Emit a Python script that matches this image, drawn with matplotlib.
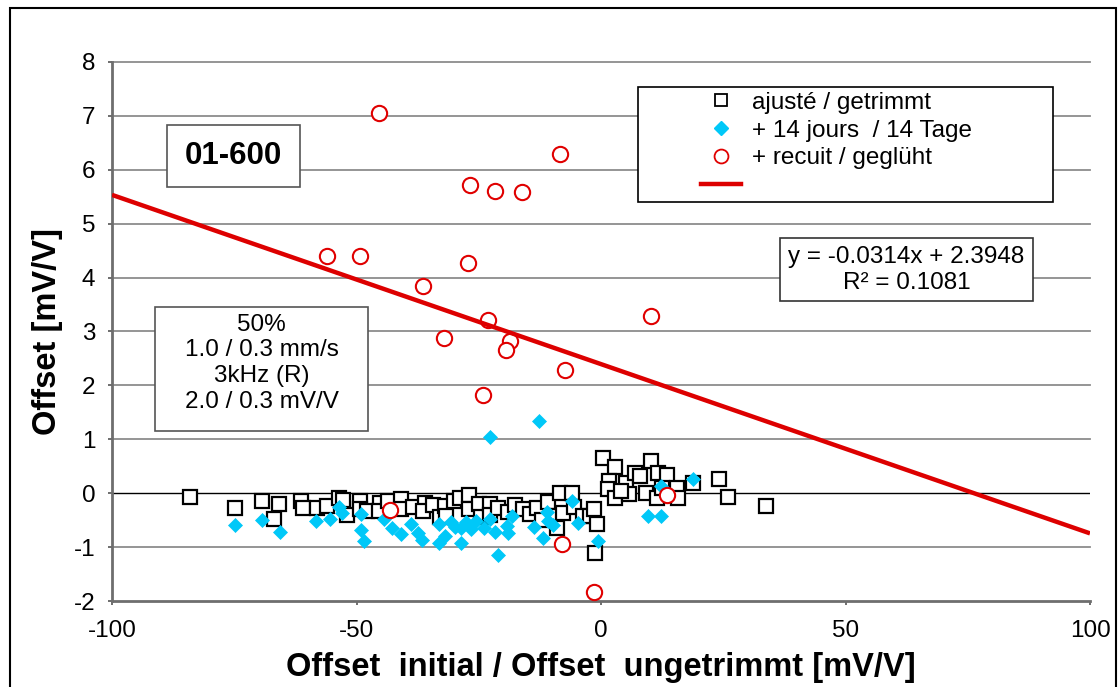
import numpy as np
import matplotlib
matplotlib.use('Agg')
import matplotlib.pyplot as plt
from matplotlib.patches import Rectangle
from matplotlib.lines import Line2D

plt.rcParams['font.family'] = ['Liberation Sans', 'DejaVu Sans']
plt.rcParams['axes.unicode_minus'] = False

# ── Data ──────────────────────────────────────────────────────────────────────
# ajusté / getrimmt (open squares)
sq_x = [-84.0, -74.8, -69.4, -65.8, -66.9, -61.3, -61.0, -58.1, -56.0, -53.5,
        -52.8, -52.0, -49.3, -49.3, -47.9, -45.2, -45.5, -43.5, -41.0, -40.8,
        -38.5, -36.0, -36.5, -34.3, -33.0, -31.9, -31.6, -30.0, -28.8, -26.9,
        -26.9, -25.0, -24.5, -22.7, -22.7, -21.0, -19.0, -17.5, -16.0, -14.5,
        -13.0, -12.0, -10.8, -8.4, -6.0, -9.4, -9.1, -7.7, -5.5, -3.6,
        -2.2, -0.9, -1.2, -1.5,
        0.5, 2.9, 1.7, 1.5, 2.9, 5.1, 5.8, 7.0, 8.0, 9.3,
        10.2, 11.7, 11.4, 13.4, 15.5, 15.8, 18.8, 24.2, 26.0, 33.7,
        4.0, 12.5]
sq_y = [-0.07, -0.27, -0.14, -0.20, -0.47, -0.14, -0.27, -0.27, -0.24, -0.09,
        -0.12, -0.40, -0.14, -0.30, -0.33, -0.18, -0.33, -0.15, -0.10, -0.30,
        -0.25, -0.18, -0.33, -0.21, -0.45, -0.24, -0.43, -0.15, -0.09, -0.03,
        -0.30, -0.20, -0.45, -0.20, -0.41, -0.28, -0.35, -0.22, -0.30, -0.38,
        -0.28, -0.50, -0.16, 0.01, 0.01, -0.43, -0.64, -0.37, -0.25, -0.43,
        -0.43, -0.58, -1.11, -0.30,
        0.66, 0.48, 0.22, 0.07, -0.09, 0.19, -0.01, 0.38, 0.32, 0.01,
        0.59, 0.38, -0.09, 0.33, 0.09, -0.09, 0.19, 0.27, -0.07, -0.24,
        0.05, 0.10]

# + 14 jours / 14 Tage (diamonds)
dm_x = [-74.8, -69.3, -65.6, -58.3, -55.4, -53.5, -53.0, -49.1, -49.1, -48.4,
        -44.4, -42.8, -40.8, -38.9, -37.4, -36.7, -33.1, -33.1, -32.0, -30.7,
        -29.9, -28.7, -28.6, -27.6, -26.6, -25.6, -23.9, -22.7, -21.7, -21.0,
        -19.2, -19.0, -18.3, -13.7, -11.9, -11.1, -10.8, -9.9, -6.0, -4.8,
        -0.6, 9.7, 12.3, 12.2, 18.9, -12.6, -22.8]
dm_y = [-0.59, -0.49, -0.72, -0.52, -0.48, -0.26, -0.37, -0.38, -0.68, -0.89,
        -0.47, -0.64, -0.76, -0.58, -0.74, -0.86, -0.58, -0.92, -0.80, -0.53,
        -0.63, -0.92, -0.64, -0.53, -0.66, -0.51, -0.64, -0.47, -0.72, -1.15,
        -0.61, -0.74, -0.43, -0.63, -0.84, -0.35, -0.51, -0.59, -0.15, -0.55,
        -0.88, -0.43, -0.43, 0.13, 0.27, 1.34, 1.04]

# + recuit / geglüht (open circles)
ci_x = [-45.4, -8.4, -26.8, -21.7, -16.2, -56.0, -49.3, -27.2, -36.4, -23.1,
        10.2, -32.1, -18.6, -19.4, -7.4, -24.1, -43.1, -8.0, -1.4, 13.5]
ci_y = [7.06, 6.30, 5.71, 5.61, 5.58, 4.41, 4.41, 4.28, 3.85, 3.22,
        3.29, 2.88, 2.83, 2.66, 2.29, 1.82, -0.32, -0.95, -1.84, -0.04]

# linear trend shown on the chart
slope, intercept, r2 = -0.0314, 2.3948, 0.1081
trend_x = np.array([-100, 100])

x_ticks = [-100, -50, 0, 50, 100]
y_ticks = list(range(-2, 9))

# ── Plot ──────────────────────────────────────────────────────────────────────
fig = plt.figure(figsize=(11.19, 6.87), dpi=100)
ax = fig.add_axes([112 / 1119, 1 - 601 / 687, 978 / 1119, 539 / 687])

grid_c = '#8c8c8c'
for yv in y_ticks:
    if yv == 0:
        ax.axhline(yv, color='black', lw=1.0, zorder=1)
    elif yv > -2:
        ax.axhline(yv, color=grid_c, lw=1.3, zorder=1, clip_on=False)

ax.plot(sq_x, sq_y, ls='none', marker='s', ms=10.5, mfc='white', mec='black',
        mew=1.6, zorder=2)
ax.plot(dm_x, dm_y, ls='none', marker='D', ms=7.5, mfc='#00c8f8', mec='#00c8f8',
        mew=0.5, zorder=3)
ax.plot(ci_x, ci_y, ls='none', marker='o', ms=11, mfc='white', mec='#e00000',
        mew=1.5, zorder=4)
ax.plot(trend_x, slope * trend_x + intercept, color='#dd0000', lw=3.2, zorder=5,
        solid_capstyle='butt')

ax.set_xlim(-100, 100)
ax.set_ylim(-2, 8)
ax.set_xticks(x_ticks)
ax.set_yticks(y_ticks)
ax.tick_params(labelsize=17.5, color='#555555', width=1.2, length=3)
ax.tick_params(axis='x', pad=11)
ax.tick_params(axis='y', pad=9)
for s in ['top', 'right']:
    ax.spines[s].set_visible(False)
for s in ['left', 'bottom']:
    ax.spines[s].set_color('#6e6e6e')
    ax.spines[s].set_linewidth(2)

ax.set_xlabel('Offset  initial / Offset  ungetrimmt [mV/V]', fontsize=23.5,
              fontweight='bold')
ax.set_ylabel('Offset [mV/V]', fontsize=23.5, fontweight='bold')
ax.xaxis.set_label_coords(0.5, -0.095)
ax.yaxis.set_label_coords(-0.050, 0.5)

# boxes (axes coordinates)
def box(x0, y0, x1, y1, ec):
    ax.add_patch(Rectangle((x0, y0), x1 - x0, y1 - y0, transform=ax.transAxes,
                           fc='white', ec=ec, lw=1.2, zorder=6))

box(0.0563, 0.769, 0.1922, 0.884, '#555555')
ax.text(0.1242, 0.8265, '01-600', transform=ax.transAxes, ha='center',
        va='center', fontsize=22.5, fontweight='bold', zorder=7)

box(0.0440, 0.316, 0.2618, 0.5446, '#555555')
ax.text(0.1529, 0.441, '50%\n1.0 / 0.3 mm/s\n3kHz (R)\n2.0 / 0.3 mV/V',
        transform=ax.transAxes, ha='center', va='center', fontsize=17.5,
        linespacing=1.22, zorder=7)

box(0.683, 0.5558, 0.9417, 0.6729, '#333333')
ax.text(0.8124, 0.6143, f'y = {slope}x + {intercept}\nR² = {r2}',
        transform=ax.transAxes, ha='center', va='center', fontsize=17.5,
        linespacing=1.22, zorder=7)

# legend
box(0.538, 0.740, 0.962, 0.9535, 'black')
handles = [
    Line2D([], [], ls='none', marker='s', ms=9, mfc='white', mec='black', mew=1.3),
    Line2D([], [], ls='none', marker='D', ms=7, mfc='#00c8f8', mec='#00c8f8'),
    Line2D([], [], ls='none', marker='o', ms=10, mfc='white', mec='#e00000', mew=1.3),
    Line2D([], [], color='#dd0000', lw=3.2),
]
labels = ['ajusté / getrimmt', '+ 14 jours  / 14 Tage', '+ recuit / geglüht', '']
leg = ax.legend(handles, labels, loc='upper left', bbox_to_anchor=(0.602, 0.945),
                frameon=False, fontsize=17.5, handlelength=1.65, handletextpad=0.45,
                borderpad=0, borderaxespad=0, labelspacing=0.24)
leg.set_zorder(8)

# outer frame
fig.add_artist(Rectangle((10 / 1119, -0.01), 1106 / 1119, 1 - 8 / 687 + 0.01,
                         transform=fig.transFigure, fill=False, ec='black', lw=1.5))

fig.savefig('out.png', dpi=100)
